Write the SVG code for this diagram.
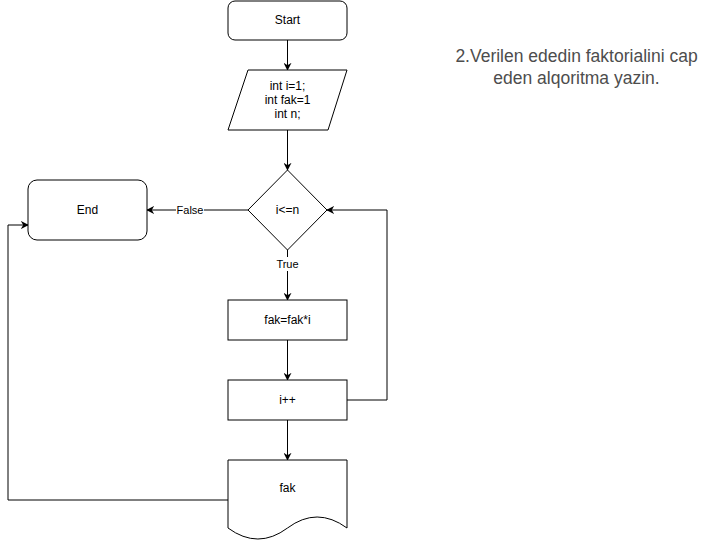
<svg xmlns="http://www.w3.org/2000/svg" width="708" height="541" viewBox="0 0 708 541">
<defs>
<marker id="arr" viewBox="0 0 10 10" refX="9" refY="5" markerWidth="8" markerHeight="8" markerUnits="userSpaceOnUse" orient="auto">
<path d="M0,0 L10,5 L0,10 L3,5 Z" fill="#000"/>
</marker>
<style>
.n{fill:#fff;stroke:#000;stroke-width:1}
.t{font-family:"Liberation Sans",Arial,sans-serif;font-size:12px;fill:#000;text-anchor:middle}
.c{fill:none;stroke:#000;stroke-width:1;marker-end:url(#arr)}
.l{font-family:"Liberation Sans",Arial,sans-serif;font-size:11px;fill:#000;text-anchor:middle}
.h{font-family:"Liberation Sans",Arial,sans-serif;font-size:17.5px;fill:#4d4d4d;text-anchor:middle}
</style>
</defs>
<rect width="708" height="541" fill="#fff"/>
<g id="connectors">
<path class="c" d="M287.5,40 V70"/>
<path class="c" d="M287.5,130 V170"/>
<path class="c" d="M248,210 H147"/>
<path class="c" d="M287.5,250 V300"/>
<path class="c" d="M287.5,340 V380"/>
<path class="c" d="M287.5,420 V460"/>
<path class="c" d="M347,400 H387 V210 H327"/>
<path class="c" d="M228,500 H8 V225 H28"/>
<rect x="176" y="203" width="28" height="14" fill="#fff"/>
<text class="l" x="190" y="214">False</text>
<rect x="274" y="257" width="27" height="14" fill="#fff"/>
<text class="l" x="287.5" y="268">True</text>
</g>
<g id="start">
<rect class="n" x="228" y="1" width="119" height="39" rx="7"/>
<text class="t" x="287.5" y="24">Start</text>
</g>
<g id="init">
<path class="n" d="M248,70 H347 L328,130 H228 Z"/>
<text class="t" x="287.5" y="90">int i=1;</text>
<text class="t" x="287.5" y="104">int fak=1</text>
<text class="t" x="287.5" y="118">int n;</text>
</g>
<g id="cond">
<path class="n" d="M287.5,170 L327,210 L287.5,250 L248,210 Z"/>
<text class="t" x="287.5" y="214">i&lt;=n</text>
</g>
<g id="end">
<rect class="n" x="28" y="180" width="119" height="60" rx="9"/>
<text class="t" x="87.5" y="214">End</text>
</g>
<g id="mult">
<rect class="n" x="228" y="300" width="119" height="40"/>
<text class="t" x="287.5" y="324">fak=fak*i</text>
</g>
<g id="inc">
<rect class="n" x="228" y="380" width="119" height="40"/>
<text class="t" x="287.5" y="404">i++</text>
</g>
<g id="output">
<path class="n" d="M228,460 H347 V528 Q317,506 287.5,528 Q258,550 228,528 Z"/>
<text class="t" x="287.5" y="492">fak</text>
</g>
<g id="title">
<text class="h" x="576.5" y="62">2.Verilen ededin faktorialini cap</text>
<text class="h" x="576.5" y="84">eden alqoritma yazin.</text>
</g>
</svg>
